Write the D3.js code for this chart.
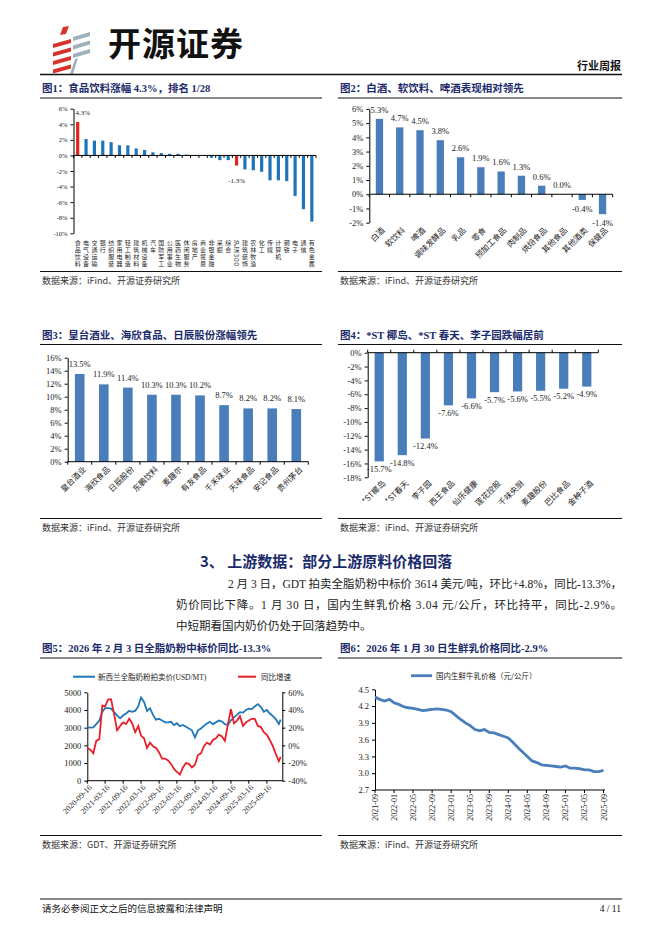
<!DOCTYPE html>
<html><head><meta charset="utf-8">
<script src="https://cdn.jsdelivr.net/npm/d3@7"></script>
<style>body{margin:0;background:#fff}svg{display:block}</style>
</head><body><svg id="page" width="662" height="936"></svg>
<script>
// ---------------- DATA ----------------
const c1Categories = ["食品饮料","电气设备","交通运输","银行","纺织服装","家用电器","轻工制造","建筑材料","机械设备","汽车","国防军工","公用事业","医药生物","休闲服务","房地产","商业贸易","非银金融","采掘","综合","沪深300","建筑装饰","农林牧渔","化工","传媒","计算机","钢铁","电子","通信","有色金属"];
const c1Values = [4.3,2.1,1.9,1.9,1.7,1.3,1.3,0.9,0.7,0.4,0.3,0.2,0.2,0.1,0.05,0.02,-0.3,-0.6,-0.6,-1.3,-1.8,-1.9,-2.1,-3.2,-3.2,-3.3,-5.2,-6.9,-8.5];
const c1Ticks = [6,4,2,0,-2,-4,-6,-8,-10];

const c2Categories = ["白酒","软饮料","啤酒","调味发酵品","乳品","零食","预加工食品","肉制品","烘焙食品","其他食品","其他酒类","保健品"];
const c2Values = [5.3,4.7,4.5,3.8,2.6,1.9,1.6,1.3,0.6,0.0,-0.4,-1.4];
const c2Ticks = [6,5,4,3,2,1,0,-1,-2];

const c3Categories = ["皇台酒业","海欣食品","日辰股份","东鹏饮料","麦趣尔","有友食品","千禾味业","天味食品","安记食品","贵州茅台"];
const c3Values = [13.5,11.9,11.4,10.3,10.3,10.2,8.7,8.2,8.2,8.1];
const c3Ticks = [16,14,12,10,8,6,4,2,0];

const c4Categories = ["*ST椰岛","*ST春天","李子园","西王食品","仙乐健康","莲花控股","千味央厨","麦趣股份","巴比食品","金种子酒"];
const c4Values = [-15.7,-14.8,-12.4,-7.6,-6.6,-5.7,-5.6,-5.5,-5.2,-4.9];
const c4Ticks = [0,-2,-4,-6,-8,-10,-12,-14,-16,-18];

const c5Dates = ["2020-09-16","2020-10-16","2020-11-16","2020-12-16","2021-01-16","2021-02-16","2021-03-16","2021-04-16","2021-05-16","2021-06-16","2021-07-16","2021-08-16","2021-09-16","2021-10-16","2021-11-16","2021-12-16","2022-01-16","2022-02-16","2022-03-16","2022-04-16","2022-05-16","2022-06-16","2022-07-16","2022-08-16","2022-09-16","2022-10-16","2022-11-16","2022-12-16","2023-01-16","2023-02-16","2023-03-16","2023-04-16","2023-05-16","2023-06-16","2023-07-16","2023-08-16","2023-09-16","2023-10-16","2023-11-16","2023-12-16","2024-01-16","2024-02-16","2024-03-16","2024-04-16","2024-05-16","2024-06-16","2024-07-16","2024-08-16","2024-09-16","2024-10-16","2024-11-16","2024-12-16","2025-01-16","2025-02-16","2025-03-16","2025-04-16","2025-05-16","2025-06-16","2025-07-16","2025-08-16","2025-09-16","2025-10-16","2025-11-16","2025-12-16","2026-01-16","2026-02-03"];
const c5Price = [3020,3000,3020,3200,3400,3900,4100,4100,4080,3880,3700,3530,3700,3800,3950,3900,3950,4200,4700,4450,3950,4100,3720,3450,3500,3400,3300,3300,3330,3150,3250,3080,3150,3050,2950,2850,2450,2850,2950,3100,3230,3330,3200,3300,3400,3350,3200,3150,3420,3580,3720,3880,3850,4000,4080,4050,4200,4330,4180,3900,4000,3800,3650,3480,3200,3450];
const c5Yoy = [-3,-5,-9,5,7,45,44,52,52,35,17,22,26,24,30,25,15,22,11,8,-3,3,-1,-3,-8,-15,-15,-17,-21,-27,-30,-33,-25,-20,-21,-25,-22,-11,-9,-1,3,1,6,8,12,10,5,24,41,25,28,33,22,26,28,30,30,22,21,15,12,6,-1,-10,-18,-13];
const c5TickDates = ["2020-09-16","2021-03-16","2021-09-16","2022-03-16","2022-09-16","2023-03-16","2023-09-16","2024-03-16","2024-09-16","2025-03-16","2025-09-16"];
const c5LeftTicks = [0,1000,2000,3000,4000,5000];
const c5RightTicks = [-40,-20,0,20,40,60];

const c6Dates = ["2021-09","2021-10","2021-11","2021-12","2022-01","2022-02","2022-03","2022-04","2022-05","2022-06","2022-07","2022-08","2022-09","2022-10","2022-11","2022-12","2023-01","2023-02","2023-03","2023-04","2023-05","2023-06","2023-07","2023-08","2023-09","2023-10","2023-11","2023-12","2024-01","2024-02","2024-03","2024-04","2024-05","2024-06","2024-07","2024-08","2024-09","2024-10","2024-11","2024-12","2025-01","2025-02","2025-03","2025-04","2025-05","2025-06","2025-07","2025-08","2025-09"];
const c6Price = [4.36,4.32,4.29,4.32,4.26,4.23,4.19,4.17,4.16,4.14,4.12,4.13,4.14,4.15,4.14,4.13,4.10,4.03,3.96,3.90,3.85,3.78,3.76,3.78,3.73,3.72,3.69,3.66,3.63,3.55,3.46,3.38,3.30,3.22,3.19,3.15,3.14,3.13,3.12,3.11,3.13,3.09,3.09,3.08,3.06,3.06,3.03,3.03,3.05];
const c6TickLabels = ["2021-09","2022-01","2022-05","2022-09","2023-01","2023-05","2023-09","2024-01","2024-05","2024-09","2025-01","2025-05","2025-09"];
const c6Ticks = [2.7,3.0,3.3,3.6,3.9,4.2,4.5];

// ---------------- HELPERS ----------------
const svg = d3.select("#page");
const SERIF = '"Liberation Serif","Noto Sans CJK SC",serif';
const CJK = '"Noto Sans CJK SC","Liberation Serif",sans-serif';
const NAVY = "#1b2a6b";
const BAR = "#4a7ebb";
const INK = "#222";

function txt(g, x, y, s, o = {}) {
  return g.append("text").attr("x", x).attr("y", y).text(s)
    .attr("font-family", o.ff || SERIF).attr("font-size", o.fs || 9)
    .attr("fill", o.fill || INK).attr("text-anchor", o.anchor || "start")
    .attr("font-weight", o.fw || "normal");
}
function line(g, x1, y1, x2, y2, w = 1, c = "#000") {
  return g.append("line").attr("x1", x1).attr("y1", y1).attr("x2", x2).attr("y2", y2)
    .attr("stroke", c).attr("stroke-width", w);
}
function figTitle(x, x2, yBase, yLine, s) {
  txt(svg, x, yBase, s, {fs: 10.5, fw: "bold", fill: NAVY});
  line(svg, x - 2, yLine, x2, yLine, 1, "#111");
}
function source(x, x2, yLine, yBase, s) {
  line(svg, x - 2, yLine, x2, yLine, 1, "#111");
  txt(svg, x, yBase, s, {ff: CJK, fs: 9, fill: "#333"});
}
function yAxis(g, y, x, ticks, fmt, fs, side = "left") {
  const ax = (side === "left" ? d3.axisLeft(y) : d3.axisRight(y))
    .tickValues(ticks).tickFormat(fmt).tickSize(3).tickSizeOuter(0).tickPadding(3);
  const a = g.append("g").attr("transform", `translate(${x},0)`).call(ax);
  a.select(".domain").attr("stroke", "#000").attr("stroke-width", 1);
  a.selectAll(".tick line").attr("stroke", "#000");
  a.selectAll("text").attr("font-family", SERIF).attr("font-size", fs).attr("fill", INK);
  return a;
}
function bandTicks(g, x, y0, dir, len = 3) {
  const r = x.range();
  line(g, r[0], y0, r[1], y0, 1);
  const n = x.domain().length;
  for (let i = 0; i <= n; i++) {
    const px = r[0] + i * x.step();
    line(g, px, y0, px, y0 + dir * len, 1);
  }
}

// ---------------- HEADER ----------------
const logo = svg.append("g");
const red = "#d7322b", grey = "#9fb0bd";
[[63,27,69,26,66,34,60,35]].forEach(p => logo.append("polygon").attr("points", p.join(",")).attr("fill", red));
for (let i = 0; i < 4; i++) {
  const y = 39 + i * 8.5;
  logo.append("polygon").attr("points", [53,y+5,71,y,71,y+4,53,y+9].join(",")).attr("fill", red);
  const yg = 32 + i * 8.5;
  if (i < 3) logo.append("polygon").attr("points", [73,yg+5,90,yg,90,yg+4,73,yg+9].join(",")).attr("fill", grey);
}
logo.append("polygon").attr("points", [75,59,78,58,73,74,70,74].join(",")).attr("fill", grey);
txt(svg, 108, 56, "开源证券", {ff: CJK, fs: 33, fw: "bold", fill: "#111"}).attr("letter-spacing", 1);
txt(svg, 621, 70, "行业周报", {ff: CJK, fs: 11, fw: "bold", fill: "#111", anchor: "end"});
line(svg, 40, 74.5, 622, 74.5, 1.5, "#111");

// ---------------- TITLES & SOURCES ----------------
figTitle(42, 322, 92, 98, "图1：食品饮料涨幅 4.3%，排名 1/28");
figTitle(340, 622, 92, 98, "图2：白酒、软饮料、啤酒表现相对领先");
source(42, 322, 271.5, 284, "数据来源：iFind、开源证券研究所");
source(340, 622, 271.5, 284, "数据来源：iFind、开源证券研究所");
figTitle(42, 322, 338.5, 344.5, "图3：皇台酒业、海欣食品、日辰股份涨幅领先");
figTitle(340, 622, 338.5, 344.5, "图4：*ST 椰岛、*ST 春天、李子园跌幅居前");
source(42, 322, 518.5, 531, "数据来源：iFind、开源证券研究所");
source(340, 622, 518.5, 531, "数据来源：iFind、开源证券研究所");
figTitle(42, 322, 652, 658, "图5：2026 年 2 月 3 日全脂奶粉中标价同比-13.3%");
figTitle(340, 622, 652, 658, "图6：2026 年 1 月 30 日生鲜乳价格同比-2.9%");
source(42, 322, 835.5, 847.5, "数据来源：GDT、开源证券研究所");
source(340, 622, 835.5, 847.5, "数据来源：iFind、开源证券研究所");

// ---------------- CHART 1 ----------------
{
  const g = svg.append("g");
  const x = d3.scaleBand().domain(c1Categories).range([73.5, 316]).paddingInner(0.62).paddingOuter(0.31);
  const y = d3.scaleLinear().domain([-10, 6]).range([233.3, 108.7]);
  g.selectAll("rect").data(c1Values).join("rect")
    .attr("x", (d, i) => x(c1Categories[i])).attr("width", x.bandwidth())
    .attr("y", d => y(Math.max(0, d))).attr("height", d => Math.abs(y(d) - y(0)))
    .attr("fill", (d, i) => (i === 0 || c1Categories[i] === "沪深300") ? "#e3231c" : "#1f73b7");
  bandTicks(g, x, y(0), 1, 2.5);
  yAxis(g, y, 73.5, c1Ticks, d => d + "%", 6.5);
  txt(g, 75.5, 115, c1Values[0].toFixed(1) + "%", {fs: 7});
  const hs = c1Categories.indexOf("沪深300");
  txt(g, x(c1Categories[hs]) + x.bandwidth() / 2, y(c1Values[hs]) + 17, c1Values[hs].toFixed(1) + "%", {fs: 7, anchor: "middle"});
  c1Categories.forEach((c, i) => {
    const cx = x(c) + x.bandwidth() / 2;
    g.append("text").attr("x", cx).attr("y", 239.5).text(c)
      .style("writing-mode", "vertical-rl").style("text-orientation", "mixed")
      .attr("font-family", CJK).attr("font-size", 6).attr("letter-spacing", 1.1)
      .attr("fill", INK);
  });
}

// ---------------- CHART 2 ----------------
{
  const g = svg.append("g");
  const x = d3.scaleBand().domain(c2Categories).range([369.3, 612.7]).paddingInner(0.64).paddingOuter(0.32);
  const y = d3.scaleLinear().domain([-2, 6]).range([222.7, 108.9]);
  g.selectAll("rect").data(c2Values).join("rect")
    .attr("x", (d, i) => x(c2Categories[i])).attr("width", x.bandwidth())
    .attr("y", d => y(Math.max(0, d))).attr("height", d => Math.abs(y(d) - y(0)))
    .attr("fill", BAR);
  bandTicks(g, x, y(0), 1, 3);
  yAxis(g, y, 369.3, c2Ticks, d => d + "%", 8.5);
  c2Values.forEach((v, i) => {
    const cx = x(c2Categories[i]) + x.bandwidth() / 2;
    const ty = v >= 0 ? y(v) - 6 : y(v) + 12;
    txt(g, cx, ty, v.toFixed(1) + "%", {fs: 8.5, anchor: "middle"});
    g.append("text").attr("transform", `translate(${cx + 3},${228}) rotate(-45)`)
      .attr("text-anchor", "end").attr("dy", "0.5em").text(c2Categories[i])
      .attr("font-family", CJK).attr("font-size", 8).attr("fill", INK);
  });
}

// ---------------- CHART 3 ----------------
{
  const g = svg.append("g");
  const x = d3.scaleBand().domain(c3Categories).range([67.7, 308.3]).paddingInner(0.6).paddingOuter(0.3);
  const y = d3.scaleLinear().domain([0, 16]).range([461.7, 357.7]);
  g.selectAll("rect").data(c3Values).join("rect")
    .attr("x", (d, i) => x(c3Categories[i])).attr("width", x.bandwidth())
    .attr("y", d => y(d)).attr("height", d => y(0) - y(d)).attr("fill", BAR);
  bandTicks(g, x, y(0), 1, 3);
  yAxis(g, y, 67.7, c3Ticks, d => d + "%", 8.5);
  c3Values.forEach((v, i) => {
    const cx = x(c3Categories[i]) + x.bandwidth() / 2;
    txt(g, cx, y(v) - 7, v.toFixed(1) + "%", {fs: 8.5, anchor: "middle"});
    g.append("text").attr("transform", `translate(${cx + 4},${467}) rotate(-45)`)
      .attr("text-anchor", "end").attr("dy", "0.5em").text(c3Categories[i])
      .attr("font-family", CJK).attr("font-size", 8).attr("fill", INK);
  });
}

// ---------------- CHART 4 ----------------
{
  const g = svg.append("g");
  const x = d3.scaleBand().domain(c4Categories).range([367.7, 598.3]).paddingInner(0.6).paddingOuter(0.3);
  const y = d3.scaleLinear().domain([-18, 0]).range([477.3, 352.7]);
  g.selectAll("rect").data(c4Values).join("rect")
    .attr("x", (d, i) => x(c4Categories[i])).attr("width", x.bandwidth())
    .attr("y", y(0)).attr("height", d => y(d) - y(0)).attr("fill", BAR);
  bandTicks(g, x, y(0), -1, 3);
  yAxis(g, y, 367.7, c4Ticks, d => d + "%", 8.5);
  c4Values.forEach((v, i) => {
    const cx = x(c4Categories[i]) + x.bandwidth() / 2;
    txt(g, cx, y(v) + 10.5, v.toFixed(1) + "%", {fs: 8.5, anchor: "middle"});
    g.append("text").attr("transform", `translate(${cx + 4},${481}) rotate(-45)`)
      .attr("text-anchor", "end").attr("dy", "0.5em").text(c4Categories[i])
      .attr("font-family", CJK).attr("font-size", 8).attr("fill", INK);
  });
}

// ---------------- SECTION TEXT ----------------
txt(svg, 200, 567, "3、 上游数据：部分上游原料价格回落", {ff: CJK, fs: 15, fw: "bold", fill: NAVY});
txt(svg, 228, 588, "2 月 3 日，GDT 拍卖全脂奶粉中标价 3614 美元/吨，环比+4.8%，同比-13.3%，", {fs: 11.5})
  .attr("textLength", 394).attr("lengthAdjust", "spacing");
txt(svg, 176, 609, "奶价同比下降。1 月 30 日，国内生鲜乳价格 3.04 元/公斤，环比持平，同比-2.9%。", {fs: 11.5})
  .attr("textLength", 446).attr("lengthAdjust", "spacing");
txt(svg, 176, 630, "中短期看国内奶价仍处于回落趋势中。", {fs: 11.5});

// ---------------- CHART 5 ----------------
{
  const g = svg.append("g");
  const parse = d3.timeParse("%Y-%m-%d");
  const dates = c5Dates.map(parse);
  const x = d3.scaleTime().domain([parse("2020-09-16"), parse("2026-02-20")]).range([87.3, 282.3]);
  const yL = d3.scaleLinear().domain([0, 5000]).range([780.7, 692.3]);
  const yR = d3.scaleLinear().domain([-40, 60]).range([780.7, 692.3]);
  yAxis(g, yL, 87.3, c5LeftTicks, d => d, 8.5, "left");
  yAxis(g, yR, 282.3, c5RightTicks, d => d + "%", 8.5, "right");
  line(g, 87.3, 780.7, 282.3, 780.7, 1);
  c5TickDates.forEach(s => {
    const px = x(parse(s));
    line(g, px, 780.7, px, 783.7, 1);
    g.append("text").attr("transform", `translate(${px + 3},${786}) rotate(-45)`)
      .attr("text-anchor", "end").attr("dy", "0.35em").text(s)
      .attr("font-family", SERIF).attr("font-size", 8).attr("fill", INK);
  });
  const lp = d3.line().x((d, i) => x(dates[i])).y(d => yL(d));
  const lr = d3.line().x((d, i) => x(dates[i])).y(d => yR(d));
  g.append("path").attr("d", lp(c5Price)).attr("fill", "none").attr("stroke", "#1f77b9").attr("stroke-width", 1.8);
  g.append("path").attr("d", lr(c5Yoy)).attr("fill", "none").attr("stroke", "#e8202a").attr("stroke-width", 1.8);
  line(g, 73, 676.7, 95, 676.7, 2, "#1f77b9");
  txt(g, 98, 679.5, "新西兰全脂奶粉拍卖价(USD/MT)", {fs: 7.5});
  line(g, 238, 676.7, 256, 676.7, 2, "#e8202a");
  txt(g, 261, 679.5, "同比增速", {ff: CJK, fs: 7.5});
}

// ---------------- CHART 6 ----------------
{
  const g = svg.append("g");
  const x = d3.scalePoint().domain(c6Dates).range([375, 603.5]);
  const y = d3.scaleLinear().domain([2.7, 4.5]).range([790, 689.3]);
  yAxis(g, y, 375, c6Ticks, d => d.toFixed(1), 8.5);
  line(g, 375, 790, 605, 790, 1);
  c6TickLabels.forEach(s => {
    const px = x(s);
    line(g, px, 790, px, 793, 1);
    g.append("text").attr("transform", `translate(${px + 3},${794}) rotate(-90)`)
      .attr("text-anchor", "end").text(s)
      .attr("font-family", SERIF).attr("font-size", 8).attr("fill", INK);
  });
  const lp = d3.line().x((d, i) => x(c6Dates[i])).y(d => y(d));
  g.append("path").attr("d", lp(c6Price)).attr("fill", "none").attr("stroke", "#4a7ebb").attr("stroke-width", 2.8);
  line(g, 411, 675.7, 432, 675.7, 2.8, "#4a7ebb");
  txt(g, 436, 678.5, "国内生鲜牛乳价格（元/公斤）", {ff: CJK, fs: 7.5});
}

// ---------------- FOOTER ----------------
line(svg, 40, 899, 622, 899, 1, "#111");
txt(svg, 42, 912, "请务必参阅正文之后的信息披露和法律声明", {ff: CJK, fs: 9.5, fill: "#111"});
txt(svg, 621, 912, "4 / 11", {fs: 9.5, anchor: "end", fill: "#111"});
</script></body></html>
